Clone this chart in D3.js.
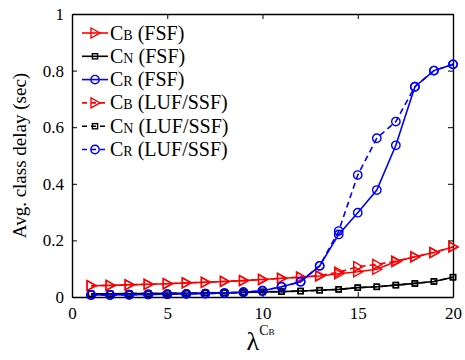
<!DOCTYPE html>
<meta charset="utf-8">
<style>
    body { margin: 0; background: #fff; }
    .axis path, .axis line { stroke: #000; }
    path.line { fill: none; stroke-width: 1.6; }
    path.dashed { stroke-dasharray: 6, 4; }
    .mark { fill: none; stroke-width: 1.4; }
</style>
<body>
<script src="https://d3js.org/d3.v7.min.js"></script>
<script>
    var serif = "'Liberation Serif', 'Times New Roman', Times, 'DejaVu Serif', serif";

    // lambda values
    var lambda = d3.range(1, 21);

    var cbFSF = [0.040, 0.041, 0.043, 0.045, 0.047, 0.050, 0.052, 0.055, 0.058, 0.062,
                 0.066, 0.070, 0.074, 0.082, 0.089, 0.098, 0.125, 0.142, 0.157, 0.177];
    var cnFSF = [0.011, 0.011, 0.012, 0.012, 0.013, 0.013, 0.014, 0.015, 0.016, 0.018,
                 0.019, 0.021, 0.024, 0.027, 0.033, 0.036, 0.042, 0.048, 0.055, 0.070];
    var crFSF = [0.007, 0.007, 0.008, 0.009, 0.010, 0.011, 0.012, 0.014, 0.017, 0.022,
                 0.036, 0.054, 0.110, 0.221, 0.298, 0.378, 0.536, 0.743, 0.800, 0.822];
    var cbLUF = [0.040, 0.041, 0.043, 0.045, 0.047, 0.050, 0.052, 0.055, 0.058, 0.062,
                 0.066, 0.070, 0.076, 0.088, 0.107, 0.115, 0.127, 0.142, 0.157, 0.177];
    var cnLUF = [0.011, 0.011, 0.012, 0.012, 0.013, 0.013, 0.014, 0.015, 0.016, 0.018,
                 0.019, 0.021, 0.024, 0.027, 0.033, 0.036, 0.042, 0.048, 0.055, 0.070];
    var crLUF = [0.007, 0.007, 0.008, 0.009, 0.010, 0.011, 0.012, 0.014, 0.017, 0.022,
                 0.036, 0.054, 0.110, 0.233, 0.431, 0.561, 0.620, 0.743, 0.800, 0.822];

    var xTicks = [0, 5, 10, 15, 20];
    var yTicks = [0, 0.2, 0.4, 0.6, 0.8, 1];

    var series = [
        {name: "B", scheme: "FSF", values: cbFSF, color: "#ff0000", marker: "tri", dashed: false},
        {name: "N", scheme: "FSF", values: cnFSF, color: "#000000", marker: "sq", dashed: false},
        {name: "R", scheme: "FSF", values: crFSF, color: "#0000ff", marker: "circ", dashed: false},
        {name: "B", scheme: "LUF/SSF", values: cbLUF, color: "#ff0000", marker: "tri", dashed: true},
        {name: "N", scheme: "LUF/SSF", values: cnLUF, color: "#000000", marker: "sq", dashed: true},
        {name: "R", scheme: "LUF/SSF", values: crLUF, color: "#0000ff", marker: "circ", dashed: true}
    ];

    var width = 465, height = 360;
    var margin = {top: 14, right: 12, bottom: 63, left: 72};
    var w = width - margin.left - margin.right,
        h = height - margin.top - margin.bottom;

    var x = d3.scaleLinear().domain([0, 20]).range([0, w]);
    var y = d3.scaleLinear().domain([0, 1]).range([h, 0]);

    var svg = d3.select("body").append("svg")
        .attr("width", width)
        .attr("height", height)
        .style("font-family", serif);

    var g = svg.append("g")
        .attr("transform", "translate(" + margin.left + "," + margin.top + ")");

    function styleTicks(s) {
        s.attr("font-family", null);
        s.selectAll("text").style("font-size", "17px").style("font-family", serif).attr("fill", "#000");
    }

    // axes with inward ticks, on all four sides
    g.append("g").attr("class", "axis")
        .attr("transform", "translate(0," + h + ")")
        .call(d3.axisBottom(x).tickValues(xTicks).tickSizeInner(-5).tickSizeOuter(0).tickPadding(10))
        .call(styleTicks);
    g.append("g").attr("class", "axis")
        .call(d3.axisLeft(y).tickValues(yTicks).tickFormat(d3.format("~g")).tickSizeInner(-5).tickSizeOuter(0).tickPadding(8))
        .call(styleTicks);
    g.append("g").attr("class", "axis")
        .call(d3.axisTop(x).tickValues(xTicks).tickSizeInner(-5).tickSizeOuter(0).tickFormat(""));
    g.append("g").attr("class", "axis")
        .attr("transform", "translate(" + w + ",0)")
        .call(d3.axisRight(y).tickValues(yTicks).tickSizeInner(-5).tickSizeOuter(0).tickFormat(""));
    g.selectAll(".axis path.domain").attr("stroke-width", 1.4);

    var line = d3.line()
        .x(function(d, i) { return x(lambda[i]); })
        .y(function(d) { return y(d); });

    function drawMarker(sel, type, color) {
        if (type === "tri") {
            sel.append("path").attr("class", "mark").attr("stroke", color)
                .attr("d", "M-4,-5L5,0L-4,5Z");
        } else if (type === "sq") {
            sel.append("rect").attr("class", "mark").attr("stroke", color)
                .attr("x", -2.6).attr("y", -2.6).attr("width", 5.2).attr("height", 5.2);
        } else {
            sel.append("circle").attr("class", "mark").attr("stroke", color)
                .attr("r", 4.2);
        }
    }

    // draw dashed series first, solid on top
    var order = [3, 4, 5, 0, 1, 2];
    order.forEach(function(k) {
        var s = series[k];
        var sg = g.append("g");
        sg.append("path").datum(s.values)
            .attr("class", "line" + (s.dashed ? " dashed" : ""))
            .attr("stroke", s.color)
            .attr("d", line);
        sg.selectAll("g.pt").data(s.values).enter().append("g")
            .attr("class", "pt")
            .attr("transform", function(d, i) { return "translate(" + x(lambda[i]) + "," + y(d) + ")"; })
            .each(function() { drawMarker(d3.select(this), s.marker, s.color); });
    });

    // legend
    var legend = g.append("g").attr("transform", "translate(10,19)");
    series.forEach(function(s, i) {
        var row = legend.append("g").attr("transform", "translate(0," + (i * 23.3) + ")");
        row.append("line")
            .attr("x1", 0).attr("x2", 26).attr("y1", 0).attr("y2", 0)
            .attr("stroke", s.color).attr("stroke-width", 1.6)
            .attr("stroke-dasharray", s.dashed ? "5,4" : null);
        var m = row.append("g").attr("transform", "translate(13,0)");
        drawMarker(m, s.marker, s.color);
        var t = row.append("text").attr("x", 28).attr("y", 6.5)
            .style("font-family", serif).style("font-size", "20px");
        t.append("tspan").text("C");
        t.append("tspan").style("font-size", "14px").text(s.name);
        t.append("tspan").text(" (" + s.scheme + ")");
    });

    // y label
    svg.append("text")
        .attr("transform", "translate(26," + (margin.top + h / 2) + ") rotate(-90)")
        .attr("text-anchor", "middle")
        .style("font-family", serif)
        .style("font-size", "19px")
        .text("Avg. class delay (sec)");

    // x label: lambda^{C_B}
    var xl = svg.append("text")
        .attr("x", margin.left + w / 2 - 2)
        .attr("y", 350)
        .attr("text-anchor", "middle")
        .style("font-family", serif)
        .style("font-size", "26px");
    xl.append("tspan").text("λ");
    xl.append("tspan").attr("dy", -15).style("font-size", "14px").text("C");
    xl.append("tspan").style("font-size", "9px").text("B");
</script>
</body>
